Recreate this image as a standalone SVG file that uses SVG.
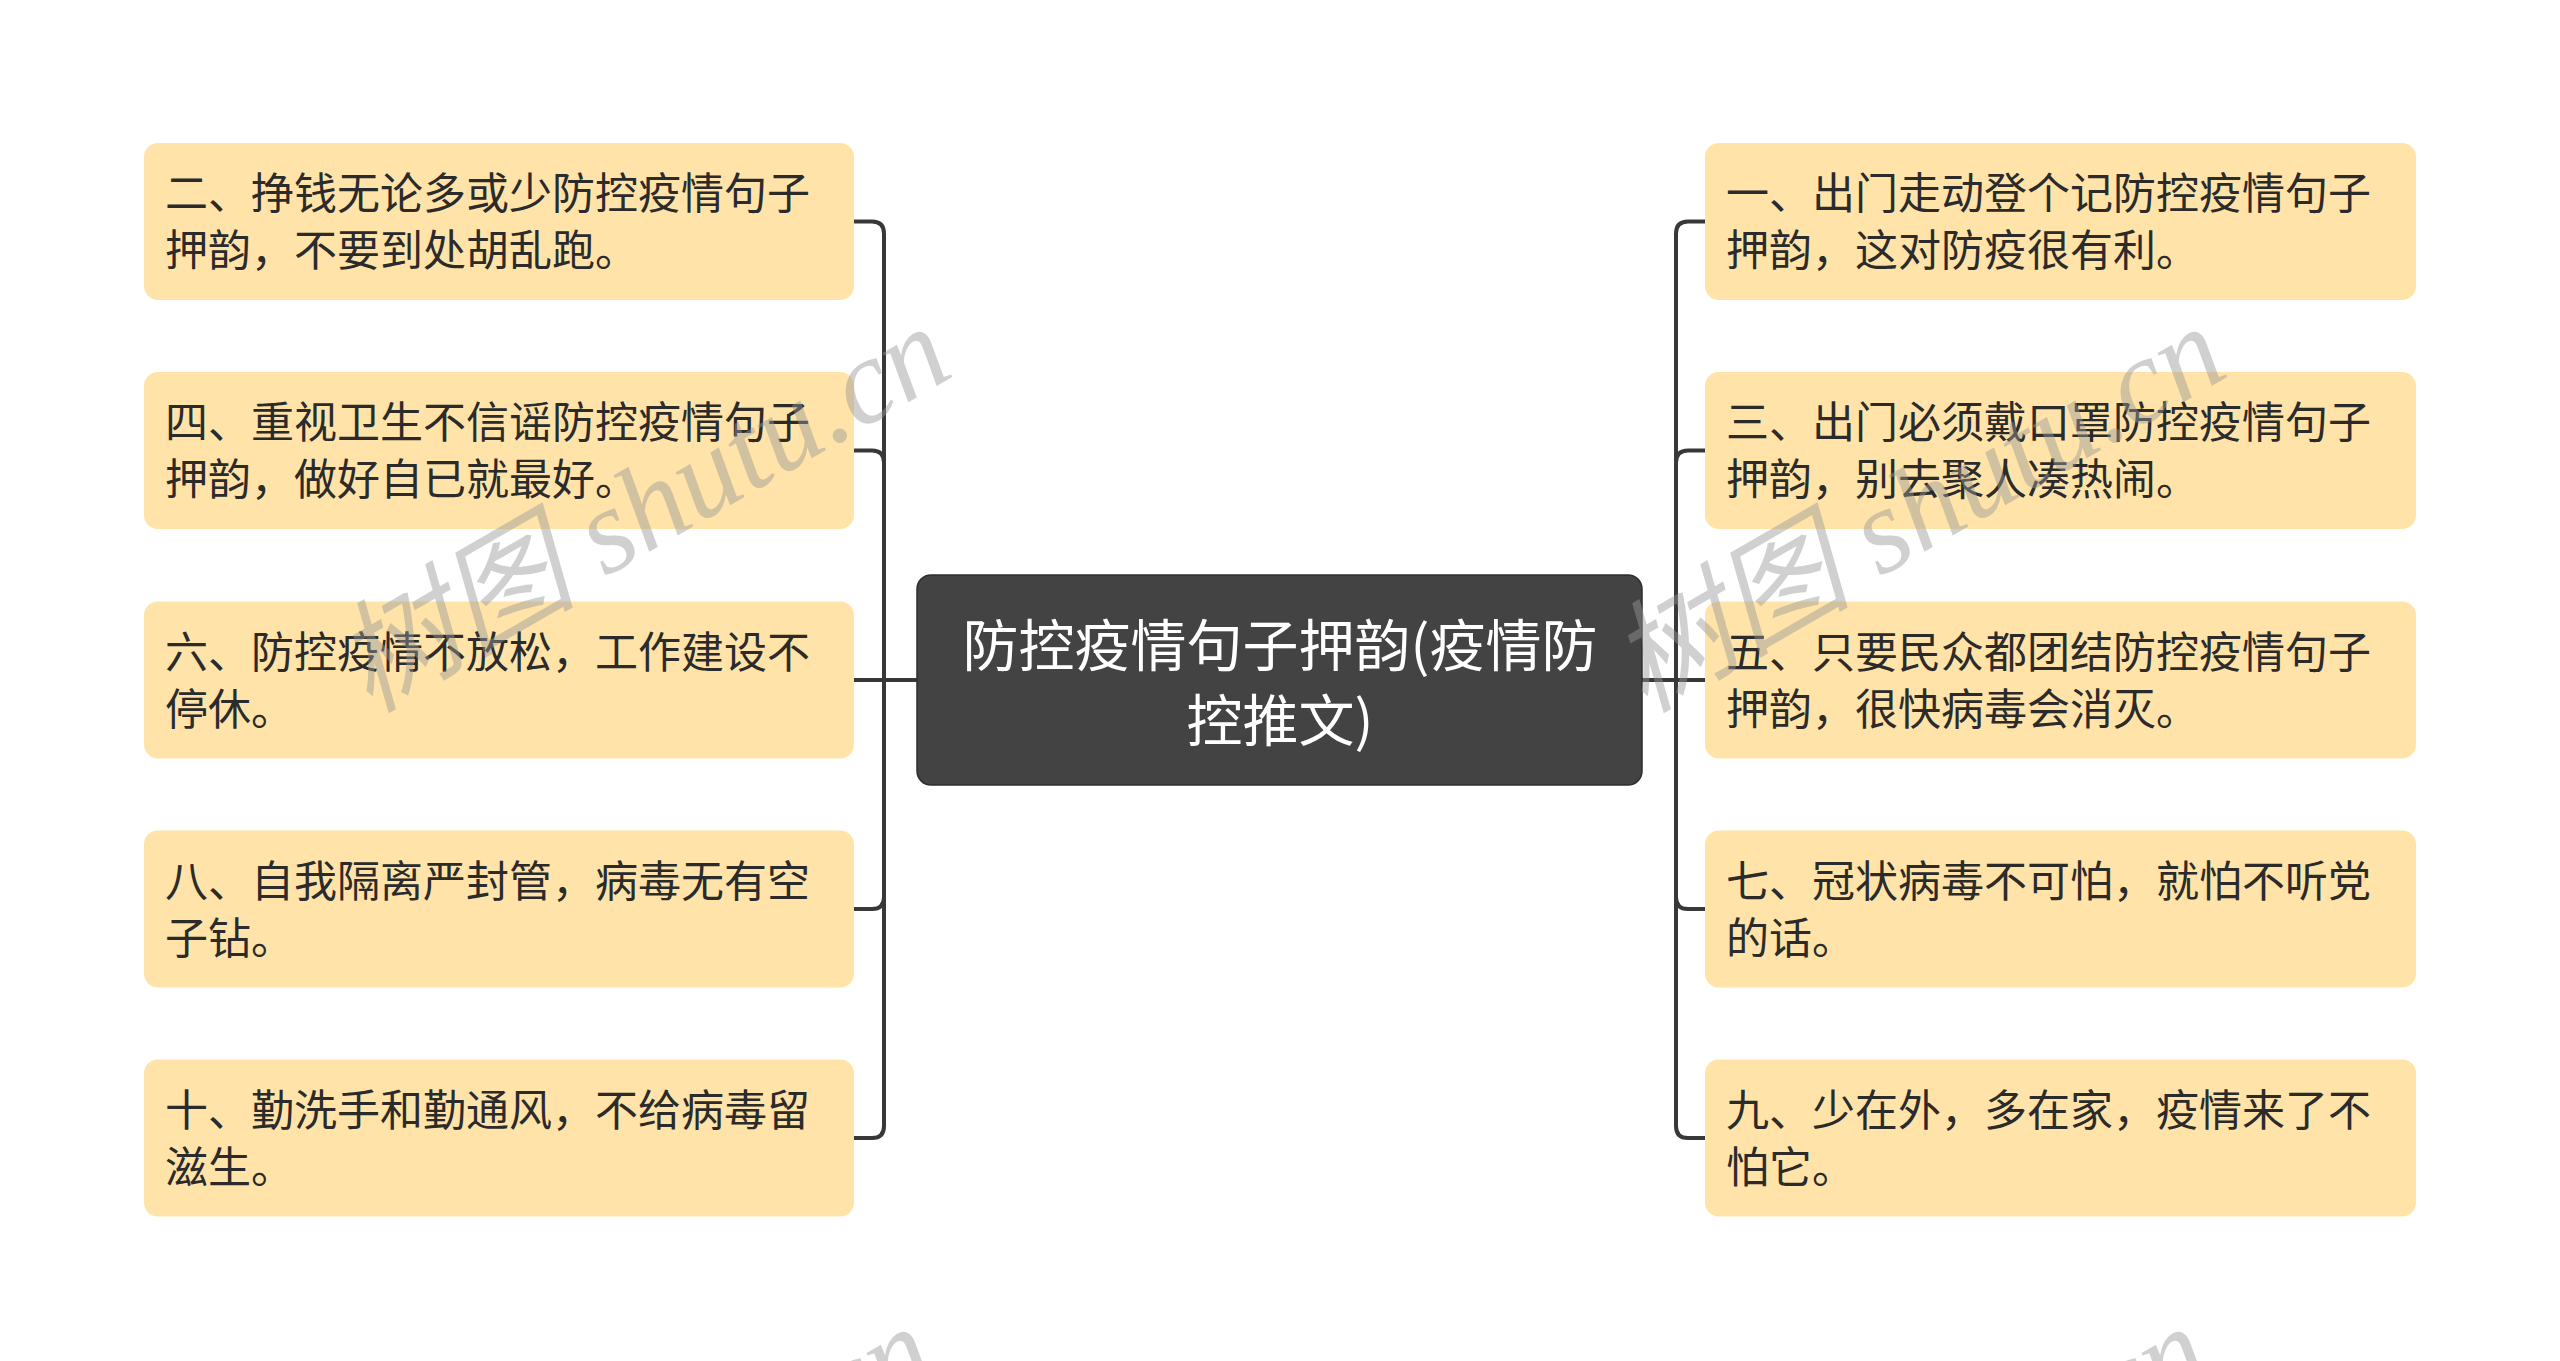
<svg xmlns="http://www.w3.org/2000/svg" width="2560" height="1361" viewBox="0 0 2560 1361">
<style>
.bg{fill:#ffffff}
.leaf{fill:#FFE3A8}
.lt{font-family:"Noto Sans CJK SC","Noto Sans",sans-serif;font-size:43px;fill:#2b2b2b}
.root{fill:#434343;stroke:#2e2e2e;stroke-width:1.5}
.rt{font-family:"Noto Sans CJK SC","Noto Sans",sans-serif;font-size:56px;fill:#ffffff;text-anchor:middle}
.con{fill:none;stroke:#383838;stroke-width:4;stroke-linecap:round}
.wm{font-family:"Liberation Serif","Noto Sans CJK SC",serif;font-style:italic;font-size:121px;fill:#999999;opacity:0.45;text-anchor:middle}
</style>
<rect class="bg" x="0" y="0" width="2560" height="1361"/>
<g id="connectors">
<path class="con" d="M917,680 H884 V233.5 Q884,221.5 872,221.5 H854"/>
<path class="con" d="M917,680 H884 V462.5 Q884,450.5 872,450.5 H854"/>
<path class="con" d="M917,680 H854"/>
<path class="con" d="M917,680 H884 V897 Q884,909 872,909 H854"/>
<path class="con" d="M917,680 H884 V1126 Q884,1138 872,1138 H854"/>
<path class="con" d="M1642,680 H1676 V233.5 Q1676,221.5 1688,221.5 H1705"/>
<path class="con" d="M1642,680 H1676 V462.5 Q1676,450.5 1688,450.5 H1705"/>
<path class="con" d="M1642,680 H1705"/>
<path class="con" d="M1642,680 H1676 V897 Q1676,909 1688,909 H1705"/>
<path class="con" d="M1642,680 H1676 V1126 Q1676,1138 1688,1138 H1705"/>
</g>
<g id="root">
<rect class="root" x="917" y="575" width="725" height="210" rx="14"/>
<text class="rt" x="1280" y="666">防控疫情句子押韵(疫情防</text>
<text class="rt" x="1280" y="741">控推文)</text>
</g>
<g id="n2">
<rect class="leaf" x="144" y="143" width="710" height="157" rx="14"/>
<text class="lt" x="165" y="209">二、挣钱无论多或少防控疫情句子</text>
<text class="lt" x="165" y="266">押韵，不要到处胡乱跑。</text>
</g>
<g id="n4">
<rect class="leaf" x="144" y="372" width="710" height="157" rx="14"/>
<text class="lt" x="165" y="438">四、重视卫生不信谣防控疫情句子</text>
<text class="lt" x="165" y="495">押韵，做好自已就最好。</text>
</g>
<g id="n6">
<rect class="leaf" x="144" y="601.5" width="710" height="157" rx="14"/>
<text class="lt" x="165" y="667.5">六、防控疫情不放松，工作建设不</text>
<text class="lt" x="165" y="724.5">停休。</text>
</g>
<g id="n8">
<rect class="leaf" x="144" y="830.5" width="710" height="157" rx="14"/>
<text class="lt" x="165" y="896.5">八、自我隔离严封管，病毒无有空</text>
<text class="lt" x="165" y="953.5">子钻。</text>
</g>
<g id="n10">
<rect class="leaf" x="144" y="1059.5" width="710" height="157" rx="14"/>
<text class="lt" x="165" y="1125.5">十、勤洗手和勤通风，不给病毒留</text>
<text class="lt" x="165" y="1182.5">滋生。</text>
</g>
<g id="n1">
<rect class="leaf" x="1705" y="143" width="711" height="157" rx="14"/>
<text class="lt" x="1726" y="209">一、出门走动登个记防控疫情句子</text>
<text class="lt" x="1726" y="266">押韵，这对防疫很有利。</text>
</g>
<g id="n3">
<rect class="leaf" x="1705" y="372" width="711" height="157" rx="14"/>
<text class="lt" x="1726" y="438">三、出门必须戴口罩防控疫情句子</text>
<text class="lt" x="1726" y="495">押韵，别去聚人凑热闹。</text>
</g>
<g id="n5">
<rect class="leaf" x="1705" y="601.5" width="711" height="157" rx="14"/>
<text class="lt" x="1726" y="667.5">五、只要民众都团结防控疫情句子</text>
<text class="lt" x="1726" y="724.5">押韵，很快病毒会消灭。</text>
</g>
<g id="n7">
<rect class="leaf" x="1705" y="830.5" width="711" height="157" rx="14"/>
<text class="lt" x="1726" y="896.5">七、冠状病毒不可怕，就怕不听党</text>
<text class="lt" x="1726" y="953.5">的话。</text>
</g>
<g id="n9">
<rect class="leaf" x="1705" y="1059.5" width="711" height="157" rx="14"/>
<text class="lt" x="1726" y="1125.5">九、少在外，多在家，疫情来了不</text>
<text class="lt" x="1726" y="1182.5">怕它。</text>
</g>
<g id="watermark">
<text class="wm" transform="translate(663,544) rotate(-30)">树图 shutu.cn</text>
<text class="wm" transform="translate(1938,544) rotate(-30)">树图 shutu.cn</text>
<text class="wm" transform="translate(647,1544) rotate(-30)">树图 shutu.cn</text>
<text class="wm" transform="translate(1922,1544) rotate(-30)">树图 shutu.cn</text>
</g>
</svg>
